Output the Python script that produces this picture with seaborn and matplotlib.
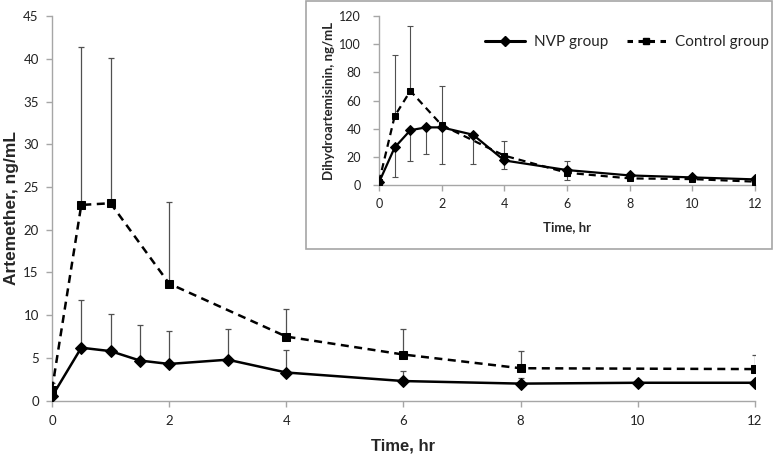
import pandas as pd
import seaborn as sns
import matplotlib.pyplot as plt
from matplotlib.lines import Line2D
from matplotlib.patches import Rectangle

# Artemether, main panel (mean and upper SD)
nvp_t = [0, 0.5, 1, 1.5, 2, 3, 4, 6, 8, 10, 12]
nvp_am = [0.5, 6.2, 5.8, 4.7, 4.3, 4.8, 3.3, 2.3, 2.0, 2.1, 2.1]
nvp_am_sd = [1.6, 5.6, 4.4, 4.1, 3.9, 3.6, 2.6, 1.2, 0.7, 0.0, 0.0]
ctl_t = [0, 0.5, 1, 2, 4, 6, 8, 12]
ctl_am = [1.3, 22.9, 23.1, 13.7, 7.5, 5.4, 3.8, 3.7]
ctl_am_sd = [1.7, 18.5, 17.0, 9.5, 3.2, 3.0, 2.0, 1.6]

# Dihydroartemisinin, inset (NVP lower SD, control upper SD)
nvp_dha = [2.1, 26.8, 39.0, 41.0, 41.0, 35.8, 17.6, 10.8, 7.0, 5.6, 4.2]
nvp_dha_sd = [0.0, 21.2, 21.8, 19.0, 26.0, 20.8, 6.3, 6.8, 1.0, 1.0, 1.0]
ctl_dha_t = [0, 0.5, 1, 2, 4, 6, 8, 10, 12]
ctl_dha = [2.5, 49.0, 66.8, 42.6, 21.0, 8.9, 4.9, 4.4, 2.6]
ctl_dha_sd = [0.0, 43.0, 45.7, 27.4, 10.3, 8.2, 0.0, 0.0, 0.0]

x_ticks = [0, 2, 4, 6, 8, 10, 12]

sns.set_style('white')
plt.rcParams['font.family'] = ['Lato', 'DejaVu Sans']

grey = '#a6a6a6'
ebar = '#505050'


def draw_panel(ax, t1, v1, t2, v2, ms, lw):
    df = pd.concat([
        pd.DataFrame({'t': t1, 'v': v1, 'group': 'NVP group'}),
        pd.DataFrame({'t': t2, 'v': v2, 'group': 'Control group'}),
    ])
    sns.lineplot(data=df, x='t', y='v', style='group',
                 markers={'NVP group': 'D', 'Control group': 's'},
                 dashes={'NVP group': '', 'Control group': (3.2, 2.2)},
                 color='black', markersize=ms, linewidth=lw,
                 markeredgecolor='black', legend=False, ax=ax, zorder=3)


def style_axes(ax, fs, xpad, ypad):
    for s in ['top', 'right']:
        ax.spines[s].set_visible(False)
    for s in ['left', 'bottom']:
        ax.spines[s].set_color(grey)
        ax.spines[s].set_linewidth(1.0)
    ax.tick_params(axis='both', direction='out', length=4, width=1,
                   color=grey, labelsize=fs, labelcolor='#222222',
                   left=True, bottom=True)
    ax.tick_params(axis='x', pad=xpad)
    ax.tick_params(axis='y', pad=ypad)


fig = plt.figure(figsize=(7.77, 4.55), dpi=100)

# main panel
ax = fig.add_axes([0.0669, 0.1193, 0.9048, 0.8455])
ax.errorbar(nvp_t, nvp_am, yerr=[[0] * len(nvp_t), nvp_am_sd], fmt='none',
            ecolor=ebar, elinewidth=0.9, capsize=2.5, capthick=0.9, zorder=2)
ax.errorbar(ctl_t, ctl_am, yerr=[[0] * len(ctl_t), ctl_am_sd], fmt='none',
            ecolor=ebar, elinewidth=0.9, capsize=2.5, capthick=0.9, zorder=2)
draw_panel(ax, nvp_t, nvp_am, ctl_t, ctl_am, ms=6, lw=1.8)
ax.set_xlim(0, 12)
ax.set_ylim(0, 45)
ax.set_xticks(x_ticks)
ax.set_yticks(range(0, 46, 5))
style_axes(ax, 9.5, 6, 5.5)
ax.set_xlabel('Time, hr', fontsize=12, fontweight='bold',
              family='Liberation Sans', va='top')
ax.xaxis.set_label_coords(0.5, -0.098)
ax.set_ylabel('Artemether, ng/mL', fontsize=12.5, fontweight='bold',
              family='Liberation Sans')
ax.yaxis.set_label_coords(-0.047, 0.5)

# inset frame
fig.patches.append(Rectangle((0.3938, 0.4527), 0.5997, 0.545,
                             transform=fig.transFigure, facecolor='white',
                             edgecolor=grey, linewidth=1.2, zorder=1))

# inset panel
ax2 = fig.add_axes([0.4878, 0.5927, 0.4839, 0.3727], zorder=2)
ax2.patch.set_alpha(0)
ax2.errorbar(nvp_t, nvp_dha, yerr=[nvp_dha_sd, [0] * len(nvp_t)], fmt='none',
             ecolor=ebar, elinewidth=0.8, capsize=2, capthick=0.8, zorder=2)
ax2.errorbar(ctl_dha_t, ctl_dha, yerr=[[0] * len(ctl_dha_t), ctl_dha_sd],
             fmt='none', ecolor=ebar, elinewidth=0.8, capsize=2, capthick=0.8,
             zorder=2)
draw_panel(ax2, nvp_t, nvp_dha, ctl_dha_t, ctl_dha, ms=5, lw=1.6)
ax2.set_xlim(0, 12)
ax2.set_ylim(0, 120)
ax2.set_xticks(x_ticks)
ax2.set_yticks(range(0, 121, 20))
style_axes(ax2, 9, 5, 9)
ax2.set_xlabel('Time, hr', fontsize=9.5, fontweight='bold', va='top')
ax2.xaxis.set_label_coords(0.5, -0.212)
ax2.set_ylabel('Dihydroartemisinin, ng/mL', fontsize=9.5, fontweight='bold')
ax2.yaxis.set_label_coords(-0.118, 0.5)

handles = [
    Line2D([], [], color='black', lw=2.2, marker='D', markersize=5),
    Line2D([], [], color='black', lw=2.2, ls=(0, (1.8, 1.8)), marker='s',
           markersize=5),
]
ax2.legend(handles, ['NVP group', 'Control group'], ncol=2, frameon=False,
           loc='center', bbox_to_anchor=(0.66, 0.845), fontsize=11,
           handlelength=2.6, columnspacing=1.2, handletextpad=0.6)

fig.savefig('out.png', dpi=100)
